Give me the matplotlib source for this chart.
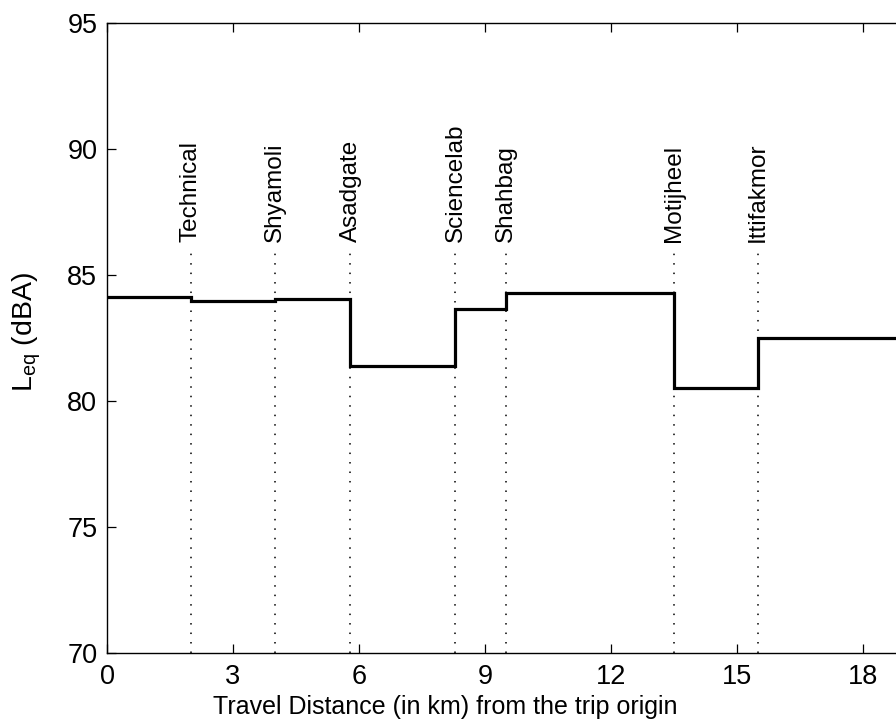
import matplotlib
matplotlib.use("Agg")
import matplotlib.pyplot as plt

plt.rcParams['font.family'] = ['Liberation Sans', 'DejaVu Sans']
plt.rcParams['mathtext.fontset'] = 'custom'
plt.rcParams['mathtext.rm'] = 'Liberation Sans'
plt.rcParams['mathtext.it'] = 'Liberation Sans'

# Data
edges = [0, 2.0, 4.0, 5.8, 8.3, 9.5, 13.5, 15.5, 19.0]
leq = [84.13, 83.97, 84.05, 81.4, 83.65, 84.27, 80.5, 82.5]
stations = ["Technical", "Shyamoli", "Asadgate", "Sciencelab", "Shahbag",
            "Motijheel", "Ittifakmor"]
station_km = [2.0, 4.0, 5.8, 8.3, 9.5, 13.5, 15.5]
xticks = [0, 3, 6, 9, 12, 15, 18]
yticks = [70, 75, 80, 85, 90, 95]

fig = plt.figure(figsize=(8.96, 7.28), dpi=100)
ax = fig.add_axes([107/896, (728-652.7)/728, 19*41.98/896, (652.7-23)/728])

for xs, name in zip(station_km, stations):
    ax.plot([xs, xs], [70, 86], color='black', lw=1.1,
            linestyle=(0, (1, 5.2)), zorder=1)
    ax.text(xs, 86.3, name, rotation=90, ha='center', va='bottom',
            fontsize=17.5, color='black')

ax.stairs(leq, edges, baseline=None, color='black', lw=2.3, zorder=3)

ax.set_xlim(0, 19)
ax.set_ylim(70, 95)
ax.set_xticks(xticks)
ax.set_yticks(yticks)
ax.tick_params(direction='in', length=6.5, width=0.9, top=True, right=True,
               labelsize=19.5, colors='black')
ax.tick_params(axis='x', pad=8)
ax.tick_params(axis='y', pad=7)
for s in ax.spines.values():
    s.set_linewidth(1.0)

ax.set_xlabel('Travel Distance (in km) from the trip origin', fontsize=18,
              labelpad=2)
ax.xaxis.set_label_coords((445 - 107) / (19 * 41.98), -0.067)
ax.set_ylabel(r'L$_{\mathrm{eq}}$ (dBA)', fontsize=20.5, labelpad=16)
ax.yaxis.set_label_coords(-0.08, 0.51)

fig.savefig('out.png', dpi=100)
